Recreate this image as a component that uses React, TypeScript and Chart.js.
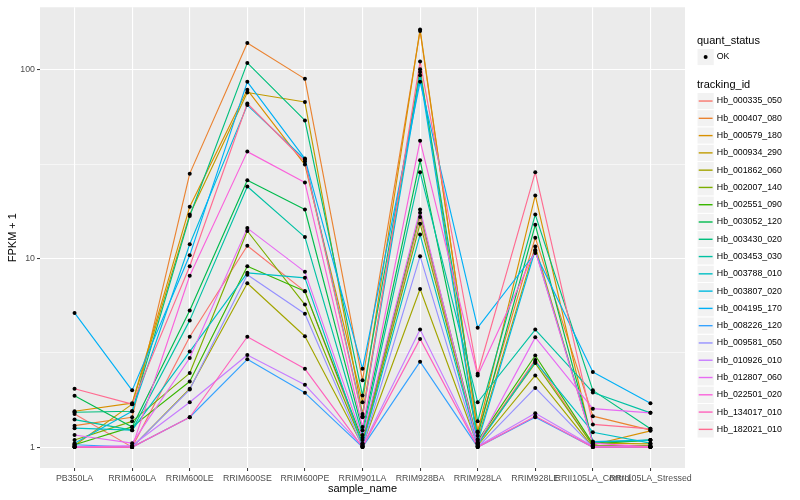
import React, { useEffect, useRef } from 'react';
import { Chart, registerables } from 'chart.js';

Chart.register(...registerables);

const categories = [
  'PB350LA', 'RRIM600LA', 'RRIM600LE', 'RRIM600SE', 'RRIM600PE', 'RRIM901LA',
  'RRIM928BA', 'RRIM928LA', 'RRIM928LE', 'RRII105LA_Control', 'RRII105LA_Stressed',
];

const trackingIds = [
  'Hb_000335_050', 'Hb_000407_080', 'Hb_000579_180', 'Hb_000934_290', 'Hb_001862_060',
  'Hb_002007_140', 'Hb_002551_090', 'Hb_003052_120', 'Hb_003430_020', 'Hb_003453_030',
  'Hb_003788_010', 'Hb_003807_020', 'Hb_004195_170', 'Hb_008226_120', 'Hb_009581_050',
  'Hb_010926_010', 'Hb_012807_060', 'Hb_022501_020', 'Hb_134017_010', 'Hb_182021_010',
];

const seriesColors = [
  '#F8766D', '#EA8331', '#D89000', '#C09B00', '#A3A500', '#7CAE00', '#39B600', '#00BB4E',
  '#00BF7D', '#00C1A3', '#00BFC4', '#00BAE0', '#00B0F6', '#35A2FF', '#9590FF', '#C77CFF',
  '#E76BF3', '#FA62DB', '#FF62BC', '#FF6C91',
];

// FPKM + 1 values per tracking id, one per sample (in category order)
const hb000335_050 = [1.5, 1.0, 3.85, 11.7, 6.7, 1.05, 16.6, 1.05, 2.9, 1.02, 1.0];
const hb000407_080 = [1.3, 1.44, 28.2, 139, 89.7, 2.26, 161, 1.2, 12.9, 1.46, 1.23];
const hb000579_180 = [1.55, 1.71, 18.8, 78.5, 31.5, 1.73, 164, 1.21, 21.6, 1.03, 1.22];
const hb000934_290 = [1.02, 1.69, 17.1, 75.9, 67.6, 1.5, 101, 1.1, 11.6, 1.05, 1.04];
const hb001862_060 = [1.0, 1.0, 2.04, 7.4, 3.87, 1.02, 6.9, 1.02, 2.4, 1.0, 1.0];
const hb002007_140 = [1.09, 1.37, 2.47, 14.0, 5.7, 1.04, 15.3, 1.05, 2.79, 1.02, 1.02];
const hb002551_090 = [1.03, 1.28, 2.23, 9.1, 6.7, 1.09, 17.5, 1.08, 3.06, 1.04, 1.09];
const hb003052_120 = [1.87, 1.28, 5.3, 26.0, 18.2, 1.23, 33.2, 1.15, 15.1, 1.06, 1.09];
const hb003430_020 = [1.53, 1.55, 16.8, 109, 54, 1.88, 97.5, 1.37, 17.1, 2.0, 1.25];
const hb003453_030 = [1.4, 1.23, 4.7, 24.1, 13.0, 1.16, 28.7, 1.73, 4.2, 1.95, 1.52];
const hb003788_010 = [1.26, 1.23, 3.21, 8.4, 7.9, 1.03, 13.4, 1.03, 2.84, 1.2, 1.05];
const hb003807_020 = [1.05, 1.55, 11.9, 65.1, 33.5, 1.46, 93.7, 1.06, 11.1, 1.07, 1.09];
const hb004195_170 = [5.15, 2.0, 10.4, 86.5, 33.9, 2.6, 86.5, 4.3, 10.7, 2.5, 1.71];
const hb008226_120 = [1.03, 1.0, 1.44, 2.92, 1.94, 1.0, 2.84, 1.0, 1.44, 1.0, 1.0];
const hb009581_050 = [1.0, 1.0, 2.02, 8.2, 5.1, 1.0, 10.3, 1.0, 2.06, 1.0, 1.0];
const hb010926_010 = [1.0, 1.02, 1.73, 3.08, 2.14, 1.01, 4.2, 1.01, 1.51, 1.01, 1.01];
const hb012807_060 = [1.16, 1.05, 2.97, 14.5, 8.5, 1.12, 18.2, 1.04, 3.82, 1.6, 1.52];
const hb022501_020 = [1.0, 1.0, 8.1, 36.9, 25.3, 1.28, 42.2, 2.4, 11.0, 1.05, 1.0];
const hb134017_010 = [1.0, 1.0, 1.44, 3.85, 2.6, 1.0, 3.75, 1.0, 1.46, 1.0, 1.0];
const hb182021_010 = [2.04, 1.69, 9.1, 66.4, 32.7, 1.44, 111, 2.45, 28.7, 1.32, 1.25];

const seriesValues = [
  hb000335_050, hb000407_080, hb000579_180, hb000934_290, hb001862_060,
  hb002007_140, hb002551_090, hb003052_120, hb003430_020, hb003453_030,
  hb003788_010, hb003807_020, hb004195_170, hb008226_120, hb009581_050,
  hb010926_010, hb012807_060, hb022501_020, hb134017_010, hb182021_010,
];

const yMajorTicks = [1, 10, 100];
const yMinorTicks = [3.1623, 31.623];
const quantStatus = ['OK'];

const FONT = '"Liberation Sans", Arial, Helvetica, sans-serif';

export default function App() {
  const ref = useRef<HTMLCanvasElement | null>(null);

  useEffect(() => {
    if (!ref.current) return;
    const n = seriesValues.length;
    const datasets: any[] = seriesValues.map((vals, i) => ({
      label: trackingIds[i],
      data: vals.map((v, j) => ({ x: j, y: v })),
      borderColor: seriesColors[i],
      backgroundColor: seriesColors[i],
      borderWidth: 1.15,
      borderJoinStyle: 'round',
      pointRadius: 0,
      fill: false,
      tension: 0,
      order: n - i + 1,
    }));
    datasets.push({
      label: quantStatus[0],
      data: seriesValues.flatMap((vals) => vals.map((v, j) => ({ x: j, y: v }))),
      showLine: false,
      pointRadius: 2,
      pointBackgroundColor: '#000000',
      pointBorderColor: '#000000',
      pointBorderWidth: 0,
      order: 0,
    });

    const isMajor = (v: number) => yMajorTicks.some((m) => Math.abs(m - v) < 1e-6);

    const bgPlugin = {
      id: 'bgPanel',
      beforeDraw(chart: any) {
        const { ctx, chartArea: a, width, height } = chart;
        ctx.save();
        ctx.fillStyle = '#FFFFFF';
        ctx.fillRect(0, 0, width, height);
        ctx.fillStyle = '#EBEBEB';
        ctx.fillRect(a.left, a.top, a.right - a.left, a.bottom - a.top);
        ctx.restore();
      },
    };

    const annotPlugin = {
      id: 'annot',
      afterDraw(chart: any) {
        const { ctx, chartArea: a } = chart;
        ctx.save();
        // axis titles
        ctx.fillStyle = '#000000';
        ctx.font = `11px ${FONT}`;
        ctx.textAlign = 'center';
        ctx.textBaseline = 'middle';
        ctx.fillText('sample_name', (a.left + a.right) / 2, 489);
        ctx.save();
        ctx.translate(13, (a.top + a.bottom) / 2);
        ctx.rotate(-Math.PI / 2);
        ctx.fillText('FPKM + 1', 0, 0);
        ctx.restore();

        // legend
        const lx = 697;
        const key = 17.28;
        ctx.textAlign = 'left';
        ctx.font = `11px ${FONT}`;
        ctx.fillStyle = '#000000';
        ctx.fillText('quant_status', lx, 40.5);
        // OK key
        const ky = 48.4;
        ctx.fillStyle = '#F2F2F2';
        ctx.fillRect(lx, ky, key, key);
        ctx.strokeStyle = '#FFFFFF';
        ctx.lineWidth = 1;
        ctx.strokeRect(lx, ky, key, key);
        ctx.fillStyle = '#000000';
        ctx.beginPath();
        ctx.arc(lx + key / 2, ky + key / 2, 2, 0, Math.PI * 2);
        ctx.fill();
        ctx.font = `8.8px ${FONT}`;
        ctx.fillText(quantStatus[0], lx + key + 2.5, ky + key / 2);

        ctx.font = `11px ${FONT}`;
        ctx.fillText('tracking_id', lx, 84.5);
        ctx.font = `8.8px ${FONT}`;
        const startY = 92.4;
        trackingIds.forEach((id, i) => {
          const y = startY + i * key;
          ctx.fillStyle = '#F2F2F2';
          ctx.fillRect(lx, y, key, key);
          ctx.strokeStyle = '#FFFFFF';
          ctx.lineWidth = 1;
          ctx.strokeRect(lx, y, key, key);
          ctx.strokeStyle = seriesColors[i];
          ctx.lineWidth = 1.4;
          ctx.beginPath();
          ctx.moveTo(lx + 1.7, y + key / 2);
          ctx.lineTo(lx + key - 1.7, y + key / 2);
          ctx.stroke();
          ctx.fillStyle = '#000000';
          ctx.fillText(id, lx + key + 2.5, y + key / 2);
        });
        ctx.restore();
      },
    };

    const chart = new Chart(ref.current, {
      type: 'line',
      data: { datasets },
      options: {
        animation: false,
        responsive: true,
        maintainAspectRatio: false,
        layout: { padding: { left: 0, top: 5, right: 115, bottom: 0 } },
        plugins: { legend: { display: false }, tooltip: { enabled: false } },
        scales: {
          x: {
            type: 'linear',
            min: -0.6,
            max: 10.6,
            afterBuildTicks: (axis: any) => {
              axis.ticks = categories.map((_, i) => ({ value: i }));
            },
            afterFit: (axis: any) => {
              axis.height = 32;
            },
            ticks: {
              autoSkip: false,
              maxRotation: 0,
              minRotation: 0,
              padding: 2,
              color: '#4D4D4D',
              font: { family: FONT, size: 8.8 },
              callback: (v: any) => categories[Math.round(Number(v))] ?? '',
            },
            grid: {
              color: '#FFFFFF',
              lineWidth: 1.1,
              tickColor: '#333333',
              tickLength: 3,
              tickWidth: 1,
              drawTicks: true,
            },
            border: { display: false },
          },
          y: {
            type: 'logarithmic',
            min: 0.775,
            max: 215,
            afterBuildTicks: (axis: any) => {
              axis.ticks = [...yMajorTicks, ...yMinorTicks]
                .sort((p, q) => p - q)
                .map((v) => ({ value: v }));
            },
            afterFit: (axis: any) => {
              axis.width = 40;
            },
            ticks: {
              padding: 2,
              color: '#4D4D4D',
              font: { family: FONT, size: 8.8 },
              callback: (v: any) => (isMajor(Number(v)) ? String(Math.round(Number(v))) : ''),
            },
            grid: {
              color: '#FFFFFF',
              lineWidth: (c: any) => (c.tick && isMajor(c.tick.value) ? 1.1 : 0.55),
              tickColor: (c: any) => (c.tick && isMajor(c.tick.value) ? '#333333' : 'rgba(0,0,0,0)'),
              tickLength: 3,
              tickWidth: 1,
              drawTicks: true,
            },
            border: { display: false },
          },
        },
      } as any,
      plugins: [bgPlugin, annotPlugin],
    });

    return () => chart.destroy();
  }, []);

  return (
    <div style={{ position: 'fixed', left: 0, top: 0, width: 800, height: 500, background: '#FFFFFF' }}>
      <canvas ref={ref} />
    </div>
  );
}
